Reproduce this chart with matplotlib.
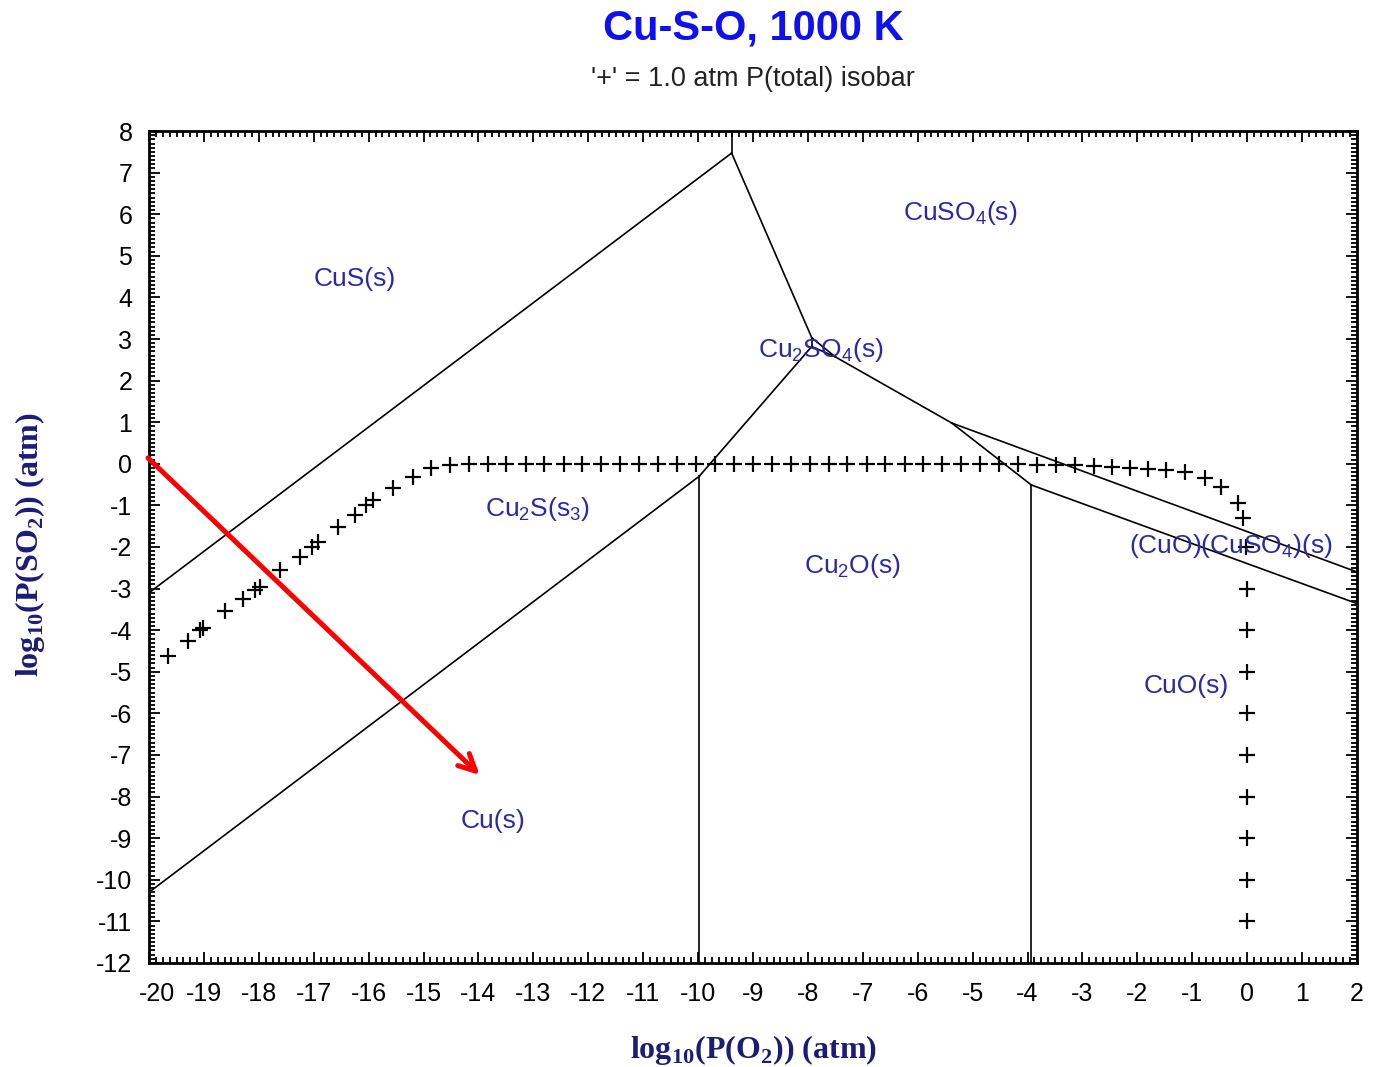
import matplotlib
matplotlib.use("Agg")
import matplotlib.pyplot as plt
from matplotlib.ticker import MultipleLocator
from matplotlib.transforms import ScaledTranslation

# phase boundaries, log10 P(O2) vs log10 P(SO2)
cus_cu2s_x, cus_cu2s_y = [-20.0, -9.39], [-3.1, 7.47]
cus_cuso4_x, cus_cuso4_y = [-9.39, -9.39], [7.47, 8.0]
cu2s_cuso4_x, cu2s_cuso4_y = [-9.39, -7.93], [7.47, 3.03]
cu_cu2s_x, cu_cu2s_y = [-20.0, -9.98], [-10.3, -0.3]
cu_cu2o_x, cu_cu2o_y = [-9.98, -9.98], [-0.3, -12.0]
cu2s_cu2o_x, cu2s_cu2o_y = [-9.98, -7.93], [-0.3, 2.82]
cu2s_cu2so4_x, cu2s_cu2so4_y = [-7.93, -7.93], [2.82, 3.03]
cu2so4_cuso4_x, cu2so4_cuso4_y = [-7.93, -7.5], [3.03, 2.57]
cu2o_cu2so4_x, cu2o_cu2so4_y = [-7.93, -7.5], [2.82, 2.57]
cu2o_cuso4_x, cu2o_cuso4_y = [-7.5, -5.38], [2.57, 0.98]
cuso4_basic_x, cuso4_basic_y = [-5.38, 2.0], [0.98, -2.6]
cu2o_basic_x, cu2o_basic_y = [-5.38, -3.93], [0.98, -0.51]
cu2o_cuo_x, cu2o_cuo_y = [-3.93, -3.93], [-0.51, -12.0]
cuo_basic_x, cuo_basic_y = [-3.93, 2.0], [-0.51, -3.36]

boundaries = [
    (cus_cu2s_x, cus_cu2s_y), (cus_cuso4_x, cus_cuso4_y),
    (cu2s_cuso4_x, cu2s_cuso4_y), (cu_cu2s_x, cu_cu2s_y),
    (cu_cu2o_x, cu_cu2o_y), (cu2s_cu2o_x, cu2s_cu2o_y),
    (cu2s_cu2so4_x, cu2s_cu2so4_y), (cu2so4_cuso4_x, cu2so4_cuso4_y),
    (cu2o_cu2so4_x, cu2o_cu2so4_y), (cu2o_cuso4_x, cu2o_cuso4_y),
    (cuso4_basic_x, cuso4_basic_y), (cu2o_basic_x, cu2o_basic_y),
    (cu2o_cuo_x, cu2o_cuo_y), (cuo_basic_x, cuo_basic_y),
]

# 1 atm total pressure isobar
isobar_x = [-19.65, -19.29, -19.07, -19.01, -18.62, -18.29, -18.07, -17.98,
            -17.62, -17.25, -17.04, -16.92, -16.56, -16.24, -16.04, -15.92,
            -15.56, -15.19, -14.86, -14.52, -14.18, -13.83, -13.49, -13.14,
            -12.80, -12.45, -12.11, -11.76, -11.42, -11.07, -10.73, -10.38,
            -10.04, -9.69, -9.35, -9.00, -8.66, -8.31, -7.97, -7.62, -7.28,
            -6.93, -6.59, -6.24, -5.90, -5.55, -5.21, -4.86, -4.52, -4.17,
            -3.83, -3.48, -3.14, -2.79, -2.47, -2.13, -1.80, -1.47, -1.13,
            -0.77, -0.47, -0.16, -0.07, -0.03,
            0.0, 0.0, 0.0, 0.0, 0.0, 0.0, 0.0, 0.0, 0.0]
isobar_y = [-4.62, -4.25, -4.0, -3.95, -3.55, -3.25, -3.03, -2.95,
            -2.55, -2.23, -1.99, -1.87, -1.51, -1.23, -0.99, -0.87,
            -0.59, -0.31, -0.11, -0.03, 0.0, 0.0, 0.0, 0.0,
            0.0, 0.0, 0.0, 0.0, 0.0, 0.0, 0.0, 0.0,
            0.0, 0.0, 0.0, 0.0, 0.0, 0.0, 0.0, 0.0, 0.0,
            0.0, 0.0, 0.0, 0.0, 0.0, 0.0, 0.0, 0.0, 0.0,
            -0.02, -0.03, -0.04, -0.05, -0.07, -0.1, -0.12, -0.15, -0.2,
            -0.34, -0.56, -0.94, -1.3, -2.0,
            -3.0, -4.0, -5.0, -6.0, -7.0, -8.0, -9.0, -10.0, -11.0]

# phase field labels
phase_names = ['CuS(s)', r'CuSO$_4$(s)', r'Cu$_2$SO$_4$(s)', r'Cu$_2$S(s$_3$)',
               r'Cu$_2$O(s)', r'(CuO)(CuSO$_4$)(s)', 'CuO(s)', 'Cu(s)']
phase_x = [-16.25, -5.22, -7.76, -12.93, -7.2, -0.29, -1.11, -13.73]
phase_y = [4.44, 6.03, 2.74, -1.09, -2.46, -1.98, -5.35, -8.59]

arrow_start = (-20.02, 0.14)
arrow_end = (-13.98, -7.48)

plt.rcParams['font.family'] = ['Liberation Sans', 'DejaVu Sans']
plt.rcParams['mathtext.fontset'] = 'custom'
plt.rcParams['mathtext.rm'] = 'Liberation Sans'
plt.rcParams['mathtext.it'] = 'Liberation Sans'
plt.rcParams['axes.unicode_minus'] = False

fig = plt.figure(figsize=(13.75, 10.67), dpi=100)
ax = fig.add_axes([0.1084, 0.0975, 0.8785, 0.7797])

for bx, by in boundaries:
    ax.plot(bx, by, color='black', lw=1.2)

ax.plot(isobar_x, isobar_y, linestyle='none', marker='+', ms=12, mew=1.6,
        color='black')

for name, px, py in zip(phase_names, phase_x, phase_y):
    ax.text(px, py, name, ha='center', va='center', fontsize=19,
            color='#2a2aa8')

ax.annotate('', xy=arrow_end, xytext=arrow_start,
            arrowprops=dict(arrowstyle='->', color='red', lw=3.6,
                            mutation_scale=30, shrinkA=0, shrinkB=0),
            annotation_clip=False)

ax.set_xlim(-20, 2)
ax.set_ylim(-12, 8)
ax.xaxis.set_major_locator(MultipleLocator(1))
ax.xaxis.set_minor_locator(MultipleLocator(0.125))
ax.yaxis.set_major_locator(MultipleLocator(1))
ax.yaxis.set_minor_locator(MultipleLocator(0.1))
ax.tick_params(which='both', direction='in', top=True, right=True,
               width=1.3, colors='black')
ax.tick_params(which='major', length=8)
ax.tick_params(which='minor', length=4)
ax.tick_params(axis='x', which='major', labelsize=18, pad=14)
ax.tick_params(axis='y', which='major', labelsize=18, pad=12)
for sp in ax.spines.values():
    sp.set_linewidth(2)

# nudge the -20 label inward so it clears the frame corner
fig.canvas.draw()
for tick in ax.xaxis.get_major_ticks():
    if abs(tick.get_loc() + 20) < 1e-6:
        lab = tick.label1
        lab.set_transform(lab.get_transform()
                          + ScaledTranslation(0.08, 0, fig.dpi_scale_trans))

fig.text(753 / 1375, 1 - 28 / 1067, 'Cu-S-O, 1000 K', ha='center',
         va='center', fontsize=30, fontweight='bold', color='#1010ee')
fig.text(753 / 1375, 1 - 79 / 1067, "'+' = 1.0 atm P(total) isobar",
         ha='center', va='center', fontsize=19.5, color='#222222')

label_font = dict(family='Liberation Serif', fontweight='bold', fontsize=23,
                  color='#1c1c78')
fig.text(754 / 1375, 1 - 1050 / 1067,
         r'log$_{\mathregular{10}}$(P(O$_{\mathregular{2}}$)) (atm)',
         ha='center', va='center', **label_font)
fig.text(30 / 1375, 1 - 545 / 1067,
         r'log$_{\mathregular{10}}$(P(SO$_{\mathregular{2}}$)) (atm)',
         ha='center', va='center', rotation=90, **label_font)

fig.savefig('out.png', dpi=100)
